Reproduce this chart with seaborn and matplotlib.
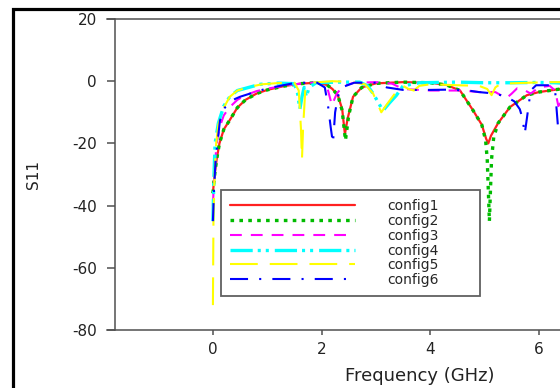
import matplotlib
matplotlib.use('Agg')
import matplotlib.pyplot as plt
from matplotlib.patches import Rectangle
import pandas as pd
import seaborn as sns

# S11 curves (frequency in GHz, S11 in dB)
freq1 = [0.0, 0.02, 0.04, 0.07, 0.12, 0.2, 0.31, 0.45, 0.6, 0.8, 1.0, 1.3, 1.6, 1.9, 2.1,
         2.2, 2.3, 2.38, 2.43, 2.48, 2.58, 2.74, 3.0, 3.5, 4.0, 4.3, 4.55, 4.79, 4.95, 5.03,
         5.07, 5.12, 5.25, 5.47, 5.78, 6.0, 6.2, 6.4]
s11_1 = [-36, -32, -29, -25, -20, -15.5, -12.5, -8.5, -6, -4, -2.8, -1.6, -0.8, -0.5, -1.2,
         -2.5, -4.5, -9, -17, -12, -5, -2, -0.7, -0.3, -0.5, -1.2, -3, -9.4, -14, -18.5,
         -20, -17.5, -13.5, -8.3, -4.5, -3.5, -3, -2.5]

freq2 = [0.0, 0.02, 0.04, 0.07, 0.12, 0.2, 0.31, 0.45, 0.6, 0.8, 1.0, 1.3, 1.6, 1.9, 2.1,
         2.2, 2.3, 2.38, 2.44, 2.5, 2.58, 2.74, 3.0, 3.5, 4.0, 4.3, 4.55, 4.79, 4.95, 5.02,
         5.05, 5.07, 5.09, 5.11, 5.13, 5.17, 5.25, 5.47, 5.78, 6.0, 6.2, 6.4]
s11_2 = [-36, -32, -29, -25, -20, -15.5, -12.5, -8.5, -6, -4, -2.8, -1.6, -0.8, -0.5, -1.2,
         -2.5, -4.5, -9.5, -19, -11, -5, -2, -0.7, -0.3, -0.5, -1.2, -3, -9.4, -14, -19,
         -25, -35, -45, -35, -25, -18, -13.5, -8.3, -4.5, -3.5, -3, -2.5]

freq3 = [0.0, 0.03, 0.07, 0.12, 0.2, 0.3, 0.45, 0.6, 0.8, 1.0, 1.3, 1.6, 1.9, 2.03, 2.12,
         2.19, 2.28, 2.4, 2.6, 3.0, 3.3, 3.5, 4.0, 4.3, 4.6, 4.9, 5.2, 5.4, 5.5, 5.6,
         5.75, 5.85, 6.0, 6.2, 6.3, 6.36, 6.4]
s11_3 = [-40, -28, -20, -15, -11, -8.5, -6, -4.5, -3.2, -2.4, -1.5, -0.8, -0.4, -0.7, -3,
         -7.7, -4, -1.5, -0.5, -0.3, -0.8, -2.5, -3, -3, -3, -3.5, -3.5, -5.5, -4, -2.3,
         -3, -4, -2, -1.5, -3, -8, -7]

freq4 = [0.0, 0.02, 0.04, 0.1, 0.2, 0.31, 0.45, 0.68, 0.87, 1.2, 1.5, 1.56, 1.6, 1.64, 1.68,
         1.72, 1.77, 1.9, 2.3, 2.7, 2.85, 2.95, 3.05, 3.13, 3.25, 3.38, 3.5, 3.8, 4.5, 5.0,
         5.5, 6.0, 6.3, 6.4]
s11_4 = [-45, -30, -20, -13.5, -8, -5, -3, -1.9, -1, -0.6, -0.8, -4, -9, -5, -2,
         -5, -2, -0.5, -0.3, -0.3, -1.5, -4, -7, -9.5, -7, -4.5, -1.5, -0.5, -0.3, -0.5,
         -0.5, -0.4, -0.5, -0.6]

freq5 = [0.0, 0.01, 0.03, 0.06, 0.1, 0.2, 0.31, 0.45, 0.68, 0.9, 1.2, 1.5, 1.58, 1.62, 1.64,
         1.66, 1.7, 1.8, 2.2, 2.5, 2.8, 2.95, 3.1, 3.2, 3.35, 3.5, 3.6, 3.7, 3.8, 4.0,
         4.5, 4.9, 5.05, 5.13, 5.2, 5.3, 5.8, 6.2, 6.4]
s11_5 = [-72, -45, -30, -20, -14, -8.5, -5, -3, -1.8, -1, -0.6, -0.5, -3, -15, -25,
         -15, -3, -0.5, 0, -0.2, -1, -4, -10, -7.5, -4, -1.5, -2.5, -3, -1.5, -1,
         -1.3, -1.5, -2.5, -4.5, -2, -0.8, -0.5, -0.3, -0.3]

freq6 = [0.0, 0.02, 0.05, 0.13, 0.22, 0.37, 0.5, 0.68, 1.0, 1.47, 1.9, 2.06, 2.12, 2.17, 2.21,
         2.25, 2.3, 2.37, 2.6, 3.0, 3.2, 3.5, 4.0, 4.4, 4.7, 4.9, 5.2, 5.4, 5.55, 5.65,
         5.7, 5.74, 5.78, 5.85, 5.95, 6.2, 6.3, 6.35, 6.4]
s11_6 = [-45, -35, -25, -12.6, -8.5, -6, -5, -4, -2.3, -0.7, -0.3, -2, -8, -15, -20,
         -10, -5, -2, -0.5, -0.5, -2, -2.8, -2.8, -2.7, -3, -3.5, -4, -5, -6.5, -9,
         -12, -17, -12, -3, -1.3, -1.3, -3, -14, -12]

names = ['config1', 'config2', 'config3', 'config4', 'config5', 'config6']
xticks = [0, 2, 4, 6]
yticks = [-80, -60, -40, -20, 0, 20]

series = [(freq1, s11_1), (freq2, s11_2), (freq3, s11_3),
          (freq4, s11_4), (freq5, s11_5), (freq6, s11_6)]
df = pd.concat([pd.DataFrame({'freq': f, 's11': s, 'config': n})
                for (f, s), n in zip(series, names)], ignore_index=True)

palette = {'config1': '#ff2020', 'config2': '#00bb00', 'config3': '#ff00ff',
           'config4': '#00ffff', 'config5': '#ffff00', 'config6': '#0000ff'}
dash_map = {'config1': '',
            'config2': (2.6, 3.8),
            'config3': (8.5, 6.5),
            'config4': (16, 3.6, 2.2, 3.6, 2.2, 4.3),
            'config5': (20, 8.6),
            'config6': (13, 8, 1.5, 8)}
widths = [1.6, 2.4, 1.5, 2.4, 1.5, 1.5]

sns.set_style('ticks')
plt.rcParams['lines.scale_dashes'] = False
plt.rcParams['axes.unicode_minus'] = False
plt.rcParams['font.family'] = ['DejaVu Sans']

fig = plt.figure(figsize=(5.6, 3.88), dpi=100)
ax = fig.add_axes([107 / 560, 58 / 388, 453 / 560, 311 / 388])

sns.lineplot(data=df, x='freq', y='s11', hue='config', style='config',
             palette=palette, dashes=dash_map, estimator=None, sort=False,
             legend=False, ax=ax)
for line, lw in zip(ax.lines, widths):
    line.set_linewidth(lw)

ax.set_xlim(-1.95, 6.39)
ax.set_ylim(-80, 20)
ax.set_xticks(xticks)
ax.set_yticks(yticks)

spine_col = '#505050'
ax.spines['right'].set_visible(False)
ax.spines['left'].set_position(('data', -1.805))
for side in ['left', 'top', 'bottom']:
    ax.spines[side].set_color(spine_col)
    ax.spines[side].set_linewidth(1.1)

ax.tick_params(axis='y', direction='out', length=5.8, width=1.1, pad=7,
               labelsize=11, color=spine_col, labelcolor='#222222')
ax.tick_params(axis='x', direction='out', length=3.5, width=1.1, pad=5,
               labelsize=11, color=spine_col, labelcolor='#222222')

ax.set_xlabel('Frequency (GHz)', fontsize=13, color='#222222')
ax.set_ylabel('S11', fontsize=11, color='#222222')
ax.xaxis.set_label_coords(0.691, -0.118)
ax.yaxis.set_label_coords(-0.146, 0.5)

leg = ax.legend(handles=ax.lines, labels=names, loc='upper left',
                bbox_to_anchor=(0.2517, 0.1029, 0.5717, 0.3473), mode='expand',
                borderaxespad=0, fontsize=10, handlelength=9.0, handletextpad=2.3,
                labelspacing=0.06, borderpad=0.65, frameon=True, fancybox=False,
                framealpha=1)
leg.get_frame().set_edgecolor('#606060')
leg.get_frame().set_linewidth(1.3)

# thick black frame round the whole picture (cut at right and bottom)
fig.add_artist(Rectangle((12.5 / 560, -0.1), 1.2, (388 - 8.5) / 388 + 0.1,
                         transform=fig.transFigure, fill=False, ec='black',
                         lw=2.3, clip_on=False))

fig.savefig('out.png', dpi=100)
